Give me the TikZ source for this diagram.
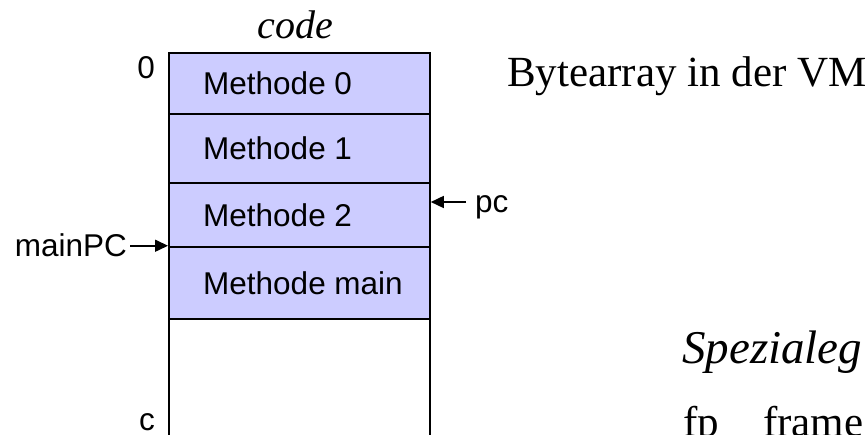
\documentclass[tikz,border=0pt]{standalone}
\usepackage{fontspec}
\setmainfont{Liberation Serif}
\setsansfont{Liberation Sans}
\usetikzlibrary{arrows.meta,calc}
\definecolor{cellfill}{RGB}{204,204,255}
\begin{document}
\begin{tikzpicture}[x=1pt,y=-1pt,
  cell/.style={draw=black, line width=1.8pt, fill=cellfill, minimum width=261pt, inner sep=0pt, anchor=north west},
  emptycell/.style={cell, fill=white},
  sanslbl/.style={font=\sffamily\fontsize{31.5}{36}\selectfont, inner sep=0pt},
  seriflbl/.style={font=\fontsize{43}{48}\selectfont, inner sep=0pt},
  italbl/.style={font=\itshape\fontsize{47}{52}\selectfont, inner sep=0pt},
  arr/.style={line width=1.6pt, -{Triangle[length=13pt,width=12pt]}}]
\useasboundingbox (0,0) rectangle (867,435);
\clip (0,0) rectangle (867,435);
% cells
\node[cell, minimum height=61pt] (m0) at (168,52) {};
\node[cell, minimum height=69pt] (m1) at (168,113) {};
\node[cell, minimum height=64pt] (m2) at (168,182) {};
\node[cell, minimum height=72pt] (mm) at (168,246) {};
\node[emptycell, minimum height=150pt] (free) at (168,318) {};
% cell texts
\node[sanslbl, anchor=west, xshift=35pt] (t0) at (m0.west) {Methode 0};
\node[sanslbl, anchor=west, xshift=35pt] (t1) at (m1.west) {Methode 1};
\node[sanslbl, anchor=west, xshift=35pt] (t2) at (m2.west) {Methode 2};
\node[sanslbl, anchor=west, xshift=35pt] (tm) at (mm.west) {Methode main};
% side labels
\node[sanslbl, anchor=base east] (zero) at (155,79) {0};
\node[sanslbl, anchor=base east] (cend) at (155,430) {c};
\node[sanslbl, anchor=base east, inner xsep=3pt] (mpc) at (130,257) {mainPC};
\draw[arr] (mpc.east) -- (mpc.east -| mm.west);
\node[sanslbl, anchor=base west] (pc) at (475,213) {pc};
\coordinate (pcA) at (466,202);
\draw[arr] (pcA) -- (pcA -| m2.east);
% serif texts
\node[font=\itshape\fontsize{40}{48}\selectfont, inner sep=0pt, anchor=base] (code) at (295,39) {code};
\node[seriflbl, anchor=base west] (vm) at (507,87) {Bytearray in der VM};
\node[italbl, anchor=base west] (spez) at (682,363) {Spezialeg};
\node[seriflbl, anchor=base west] (fp) at (683,436) {fp};
\node[seriflbl, anchor=base west] (frame) at (763,436) {frame};
\end{tikzpicture}
\end{document}
